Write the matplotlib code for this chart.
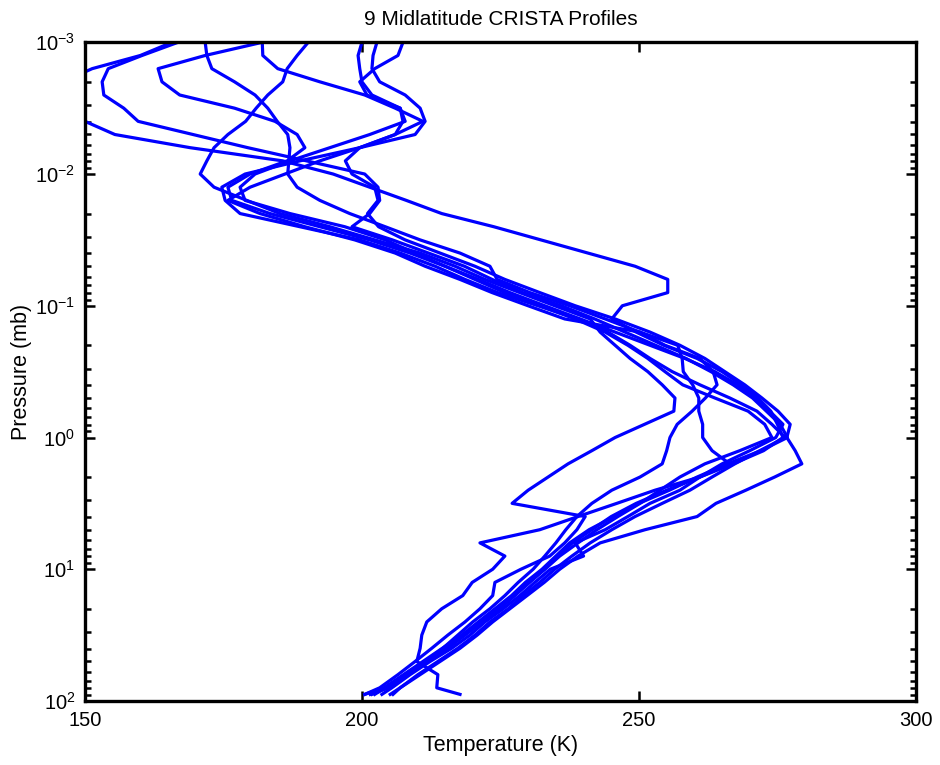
import numpy as np
import matplotlib
matplotlib.use("Agg")
import matplotlib.pyplot as plt
from matplotlib.ticker import LogLocator, NullFormatter, FixedLocator

plt.rcParams['font.family'] = ['Liberation Sans', 'DejaVu Sans']
plt.rcParams['mathtext.fontset'] = 'custom'
plt.rcParams['mathtext.rm'] = 'Liberation Sans'
plt.rcParams['mathtext.it'] = 'Liberation Sans'

# log10 of pressure (mb) at the retrieval levels
log_p = [-3.0, -2.9, -2.8, -2.7, -2.6, -2.5, -2.4, -2.3, -2.2, -2.1, -2.0, -1.9,
         -1.8, -1.7, -1.6, -1.5, -1.4, -1.3, -1.2, -1.1, -1.0, -0.9, -0.8, -0.7,
         -0.6, -0.5, -0.4, -0.3, -0.2, -0.1, 0.0, 0.1, 0.2, 0.3, 0.4, 0.5, 0.6,
         0.7, 0.8, 0.9, 1.0, 1.1, 1.2, 1.3, 1.4, 1.5, 1.6, 1.7, 1.8, 1.9, 1.95]

t1 = [165.7, 160.0, 151.3, 146.0, 143.0, 146.0, 150.0, 155.4, 169.0, 185.7, 194.8, 201.4,
      208.0, 214.4, 223.8, 232.3, 240.8, 249.3, 255.2, 255.2, 247.0, 245.1, 249.5, 254.5,
      260.5, 265.0, 268.5, 271.5, 273.8, 275.0,
      276.0, 272.5, 267.0, 261.0, 255.0, 249.5, 245.0, 241.5, 238.0, 235.5, 233.0, 230.0,
      227.5, 224.5, 221.5, 218.5, 215.0, 211.5, 208.0, 204.5, 201.5]
t2 = [166.8, 160.3, 154.2, 153.1, 153.4, 157.0, 159.6, 169.5, 179.4, 190.0, 200.5, 202.9,
      203.2, 201.4, 198.2, 205.5, 212.0, 218.5, 223.5, 229.0, 236.0, 242.0, 247.5, 253.0,
      258.5, 263.0, 267.0, 270.5, 273.0, 275.5,
      276.8, 272.0, 266.0, 260.5, 255.5, 250.0, 245.5, 241.0, 237.5, 235.0, 232.5, 229.5,
      227.0, 224.0, 221.0, 218.0, 214.5, 211.0, 207.5, 204.0, 200.5]
t3 = [182.0, 171.7, 163.2, 163.9, 167.1, 177.0, 184.3, 188.3, 189.7, 186.5, 179.8, 175.8,
      176.5, 183.4, 192.4, 201.4, 208.7, 215.0, 221.0, 226.7, 233.0, 239.4, 245.7, 252.0,
      258.3, 263.7, 267.8, 270.9, 273.6, 276.0,
      274.7, 270.0, 265.0, 261.0, 257.4, 252.0, 248.0, 243.9, 238.5, 240.0, 234.0, 231.2,
      228.5, 225.5, 222.2, 219.5, 216.2, 212.3, 208.7, 205.4, 203.6]
t4 = [171.7, 172.0, 172.9, 177.0, 180.7, 183.0, 184.7, 186.6, 187.0, 186.8, 186.6, 188.3,
      192.4, 197.8, 204.2, 210.5, 217.7, 223.1, 224.4, 230.3, 237.5, 243.9, 250.2, 254.7,
      261.0, 263.4, 264.1, 262.0, 259.6, 256.9,
      255.6, 255.0, 254.2, 250.2, 245.1, 241.5, 238.8, 236.8, 235.0, 233.0, 230.9, 228.2,
      225.8, 223.1, 220.0, 217.3, 214.6, 211.4, 207.8, 204.2, 202.3]
t5 = [182.0, 182.1, 184.8, 192.4, 200.5, 206.0, 211.0, 206.0, 199.6, 188.8, 178.9, 174.7,
      175.3, 178.0, 188.8, 199.6, 206.9, 213.2, 218.6, 224.5, 231.8, 239.0, 244.4, 248.4,
      252.0, 256.0, 261.0, 266.4, 271.3, 274.0,
      276.4, 271.8, 267.3, 263.2, 259.2, 254.2, 249.3, 245.1, 241.2, 237.9, 234.8, 232.1,
      229.1, 226.4, 223.1, 220.4, 217.3, 213.7, 210.1, 206.9, 205.6]
t6 = [190.3, 188.3, 186.5, 185.7, 183.0, 180.9, 179.0, 175.8, 173.3, 172.0, 170.8, 173.3,
      179.2, 185.2, 194.2, 202.3, 210.5, 216.8, 222.2, 228.5, 234.8, 241.2, 243.0, 245.7,
      248.4, 251.6, 254.2, 256.5, 256.3, 251.0,
      245.7, 241.5, 237.2, 233.6, 230.0, 227.1, 240.3, 238.8, 236.6, 233.9, 228.7, 224.0,
      223.6, 221.3, 218.6, 215.5, 212.6, 209.6, 206.5, 203.2, 200.5]
t7 = [200.0, 199.3, 199.6, 200.0, 201.8, 206.9, 207.4, 206.0, 199.6, 197.0, 198.2, 202.3,
      202.9, 201.0, 203.0, 207.8, 214.1, 220.4, 225.8, 232.1, 238.5, 245.7, 252.0, 257.4,
      261.9, 265.5, 269.1, 272.2, 275.1, 277.3,
      276.7, 278.2, 279.4, 274.5, 269.3, 263.9, 260.5, 251.1, 243.0, 239.0, 235.7, 232.9,
      229.8, 226.7, 223.6, 220.8, 217.7, 214.1, 210.5, 206.9, 205.1]
t8 = [202.7, 202.0, 201.8, 203.2, 207.8, 210.5, 211.4, 209.6, 199.6, 192.4, 186.1, 179.8,
      175.8, 181.6, 189.7, 198.7, 206.0, 211.4, 217.7, 223.5, 230.0, 236.6, 250.2, 257.0,
      257.8, 258.0, 259.7, 260.8, 260.8, 261.5,
      261.5, 263.2, 266.4, 261.0, 252.9, 246.0, 239.0, 232.1, 221.3, 225.8, 223.6, 219.9,
      218.2, 214.4, 211.7, 210.8, 210.5, 209.9, 213.7, 213.5, 217.7]
t9 = [207.4, 206.5, 202.3, 199.6, 200.9, 206.9, 207.8, 201.4, 194.2, 187.0, 180.7, 178.0,
      178.9, 187.0, 196.9, 204.2, 209.6, 215.0, 220.4, 225.8, 232.1, 238.5, 243.9, 248.0,
      251.6, 254.7, 257.9, 263.7, 269.7, 272.7,
      274.0, 268.2, 261.9, 257.4, 253.8, 250.2, 246.2, 242.4, 239.0, 235.7, 233.0, 230.3,
      227.6, 224.9, 221.7, 218.6, 215.5, 211.9, 208.3, 204.7, 201.8]

profiles = [t1, t2, t3, t4, t5, t6, t7, t8, t9]
pressure = 10.0 ** np.array(log_p)

x_ticks = [150, 200, 250, 300]
y_ticks = [1e-3, 1e-2, 1e-1, 1e0, 1e1, 1e2]
y_tick_labels = [r'$10^{-3}$', r'$10^{-2}$', r'$10^{-1}$', r'$10^{0}$', r'$10^{1}$', r'$10^{2}$']

fig = plt.figure(figsize=(9.4, 7.65), dpi=100)
ax = fig.add_axes([0.0904, 0.0837, 0.884, 0.861])

for t in profiles:
    ax.plot(t, pressure, color=(0, 0, 1), lw=2.3)

ax.set_yscale('log')
ax.set_xlim(150, 300)
ax.set_ylim(1e2, 1e-3)
ax.xaxis.set_major_locator(FixedLocator(x_ticks))
ax.set_xticklabels([str(v) for v in x_ticks])
ax.yaxis.set_major_locator(FixedLocator(y_ticks))
ax.set_yticklabels(y_tick_labels)
ax.yaxis.set_minor_locator(LogLocator(base=10, subs=np.arange(2, 10), numticks=20))
ax.yaxis.set_minor_formatter(NullFormatter())

ax.tick_params(which='both', direction='in', top=True, right=True, width=1.8,
               labelsize=14.5, colors='black')
ax.tick_params(which='major', length=7, pad=7)
ax.tick_params(which='minor', length=4)
for s in ax.spines.values():
    s.set_linewidth(2.4)

ax.set_title('9 Midlatitude CRISTA Profiles', fontsize=15, pad=12.5)
ax.set_xlabel('Temperature (K)', fontsize=15.5, labelpad=4)
ax.set_ylabel('Pressure (mb)', fontsize=15.5, labelpad=2)

fig.savefig('out.png', dpi=100, facecolor='white')
